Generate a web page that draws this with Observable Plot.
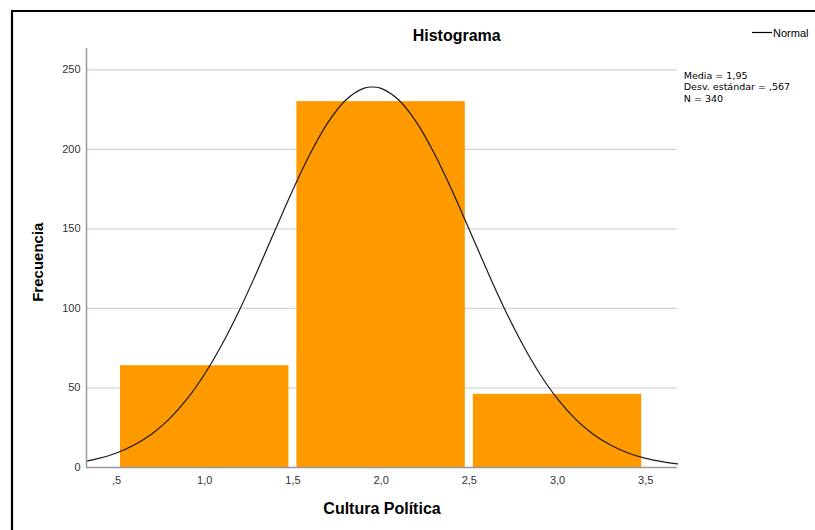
<!DOCTYPE html>
<html>
<head>
<meta charset="utf-8">
<script src="https://cdn.jsdelivr.net/npm/d3@7"></script>
<script src="https://cdn.jsdelivr.net/npm/@observablehq/plot@0.6"></script>
<style>
  html, body { margin: 0; padding: 0; background: #fff; }
  #chart svg { display: block; }
</style>
</head>
<body>
<div id="chart"></div>
<script>
// ---- data ----
const binStart = [0.5, 1.5, 2.5];
const binEnd = [1.5, 2.5, 3.5];
const counts = [64, 230, 46];

// normal curve points
const curveX = [0.33, 0.4, 0.5, 0.6, 0.7, 0.8, 0.9, 1.0, 1.1, 1.2, 1.3, 1.4, 1.5, 1.6, 1.7, 1.8, 1.9, 1.95,
                2.0, 2.1, 2.2, 2.3, 2.4, 2.5, 2.6, 2.7, 2.8, 2.9, 3.0, 3.1, 3.2, 3.3, 3.4, 3.5, 3.6, 3.68];
const curveY = [4.0, 5.7, 9.1, 14.1, 21.1, 30.6, 43.1, 58.8, 77.8, 99.7, 124.0, 149.5, 174.6, 197.7, 217.1, 231.0, 238.3, 239.2,
                238.3, 231.0, 217.1, 197.7, 174.6, 149.5, 124.0, 99.7, 77.8, 58.8, 43.1, 30.6, 21.1, 14.1, 9.1, 5.7, 3.5, 2.3];

const xTicks = [0.5, 1.0, 1.5, 2.0, 2.5, 3.0, 3.5];
const xTickLabels = [",5", "1,0", "1,5", "2,0", "2,5", "3,0", "3,5"];
const yTicks = [0, 50, 100, 150, 200, 250];
const yTickLabels = ["0", "50", "100", "150", "200", "250"];

const titleText = "Histograma";
const xLabel = "Cultura Política";
const yLabel = "Frecuencia";
const legendLabel = "Normal";
const statsLines = ["Media = 1,95", "Desv. estándar = ,567", "N = 340"];

// ---- build ----
const bars = binStart.map((s, i) => ({x1: s, x2: binEnd[i], y: counts[i]}));
const curve = curveX.map((x, i) => ({x, y: curveY[i]}));
const font = "'Liberation Sans', Arial, sans-serif";

const frameMark = (index, scales, values, dims) => {
  const g = d3.create("svg:g");
  g.append("path")
    .attr("d", `M12,${dims.height} V11 H${dims.width}`)
    .attr("fill", "none").attr("stroke", "#000").attr("stroke-width", 2.2);
  return g.node();
};

const legendMark = (index, scales, values, dims) => {
  const g = d3.create("svg:g");
  const x0 = dims.width - 63;
  g.append("line").attr("x1", x0).attr("x2", x0 + 20).attr("y1", 32.5).attr("y2", 32.5)
    .attr("stroke", "#000").attr("stroke-width", 1.2);
  g.append("text").attr("x", x0 + 21).attr("y", 37)
    .attr("text-anchor", "start")
    .attr("font-size", 11).attr("fill", "#000").attr("font-family", font).text(legendLabel);
  return g.node();
};

const chart = Plot.plot({
  width: 815,
  height: 530,
  marginLeft: 86,
  marginRight: 138,
  marginTop: 48,
  marginBottom: 63,
  style: {fontFamily: font, background: "#fff"},
  x: {domain: [0.33, 3.68]},
  y: {domain: [0, 263.4]},
  marks: [
    frameMark,
    Plot.gridY(yTicks.slice(1), {stroke: "#d4d4d4", strokeOpacity: 1, strokeWidth: 1.3}),
    Plot.rectY(bars, {x1: "x1", x2: "x2", y: "y", fill: "#FF9900", insetLeft: 4, insetRight: 4}),
    Plot.line(curve, {x: "x", y: "y", stroke: "#1a1a1a", strokeWidth: 1.2, curve: "catmull-rom"}),
    Plot.ruleY([0], {stroke: "#999", strokeWidth: 1.5}),
    Plot.ruleX([0.33], {stroke: "#999", strokeWidth: 1.5}),
    Plot.axisX({ticks: xTicks, tickSize: 0, tickPadding: 9, fontSize: 11, fill: "#333",
                tickFormat: d => xTickLabels[xTicks.indexOf(d)], label: null}),
    Plot.axisY({ticks: yTicks, tickSize: 0, tickPadding: 6, fontSize: 11, fill: "#333",
                tickFormat: d => yTickLabels[yTicks.indexOf(d)], label: null}),
    Plot.text([titleText], {frameAnchor: "top", lineAnchor: "middle", dx: 74.7, dy: -12.7,
               fontSize: 16, fontWeight: "bold", fill: "#000"}),
    Plot.text([xLabel], {frameAnchor: "bottom", lineAnchor: "middle", dy: 41.7,
               fontSize: 16, fontWeight: "bold", fill: "#000"}),
    Plot.text([yLabel], {frameAnchor: "left", textAnchor: "middle", lineAnchor: "middle", dx: -48, dy: 4.2,
               rotate: -90, fontSize: 15, fontWeight: "bold", fill: "#000"}),
    Plot.text([statsLines.join("\n")], {frameAnchor: "top-right", textAnchor: "start", lineAnchor: "top",
               dx: 6.3, dy: 22.3, fontSize: 9.5, lineHeight: 1.2, fontFamily: "'DejaVu Sans', sans-serif", fill: "#000"}),
    legendMark
  ]
});
document.getElementById("chart").appendChild(chart);
</script>
</body>
</html>
